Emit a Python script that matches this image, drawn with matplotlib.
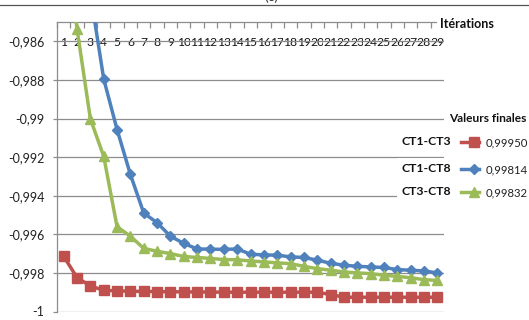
import matplotlib
matplotlib.use("Agg")
import matplotlib.pyplot as plt
from matplotlib.lines import Line2D
from matplotlib.ticker import FuncFormatter, FixedLocator
import numpy as np

plt.rcParams['font.family'] = ['Lato', 'DejaVu Sans']

iterations = list(range(1, 30))
ct1_ct3 = [-0.99714, -0.99824, -0.99868, -0.99890, -0.99893, -0.99895, -0.99896,
           -0.99897, -0.99898, -0.99898, -0.99899, -0.99899, -0.99900, -0.99900,
           -0.99900, -0.99900, -0.99900, -0.99900, -0.99900, -0.99900, -0.99912,
           -0.99926, -0.99926, -0.99926, -0.99926, -0.99926, -0.99926, -0.99926,
           -0.99926]
ct1_ct8 = [-0.9745, -0.9790, -0.9835, -0.98795, -0.99057, -0.99290, -0.99490,
           -0.99540, -0.99610, -0.99647, -0.99676, -0.99677, -0.99678, -0.99676,
           -0.99703, -0.99707, -0.99708, -0.99717, -0.99720, -0.99734, -0.99750,
           -0.99760, -0.99766, -0.99769, -0.99772, -0.99783, -0.99786, -0.99790,
           -0.99800]
ct3_ct8 = [-0.9800, -0.98535, -0.99002, -0.99196, -0.99561, -0.99610, -0.99673,
           -0.99688, -0.99700, -0.99715, -0.99720, -0.99725, -0.99731, -0.99732,
           -0.99738, -0.99743, -0.99748, -0.99752, -0.99766, -0.99778, -0.99786,
           -0.99795, -0.99800, -0.99804, -0.99812, -0.99818, -0.99825, -0.99835,
           -0.99839]
series_names = ["CT1-CT3", "CT1-CT8", "CT3-CT8"]
final_values = ["0,99950", "0,99814", "0,99832"]
y_ticks = [-1.0, -0.998, -0.996, -0.994, -0.992, -0.99, -0.988, -0.986]

W, H = 529, 320
fig = plt.figure(figsize=(W / 100, H / 100), dpi=100)
fig.patch.set_facecolor('white')

def fx(px):
    return px / W

def fy(py):
    return 1 - py / H

ax = fig.add_axes([fx(57), fy(311.5), fx(444) - fx(57), fy(22) - fy(311.5)])
ax.set_xlim(0.5, 29.5)
ax.set_ylim(-1.0, -0.985)

red = '#C0504D'
blue = '#4F81BD'
green = '#9BBB59'

ax.plot(iterations, ct1_ct3, color=red, lw=2.5, marker='s', ms=7.0, zorder=4)
ax.plot(iterations, ct1_ct8, color=blue, lw=2.5, marker='D', ms=5.6, zorder=3)
ax.plot(iterations, ct3_ct8, color=green, lw=2.5, marker='^', ms=7.2, zorder=3)

grid_c = '#8C8C8C'
ax.yaxis.set_major_locator(FixedLocator(y_ticks))
ax.yaxis.set_major_formatter(FuncFormatter(
    lambda v, p: ('%.3f' % v).rstrip('0').rstrip('.').replace('.', ',')))
ax.grid(axis='y', color=grid_c, lw=0.9, zorder=0)
ax.set_axisbelow(True)
ax.tick_params(axis='y', length=3, width=0.9, color=grid_c, pad=6, labelsize=9,
               labelcolor='#222222')

ax.xaxis.tick_top()
ax.set_xticks(iterations)
ax.set_xticklabels([str(i) for i in iterations])
ax.set_xticks(np.arange(0.5, 30, 1), minor=True)
ax.tick_params(axis='x', which='major', length=0, top=True, bottom=False,
               labeltop=True, labelbottom=False, pad=-18.5, labelsize=8.7,
               labelcolor='#111111')
ax.tick_params(axis='x', which='minor', length=4, width=0.9, color=grid_c,
               direction='in', top=True, bottom=False)
for lab in ax.get_xticklabels():
    lab.set_bbox(dict(facecolor='white', edgecolor='none', pad=0.2))

for s in ['right', 'bottom']:
    ax.spines[s].set_visible(False)
ax.spines['left'].set_color(grid_c)
ax.spines['top'].set_color(grid_c)
ax.spines['left'].set_linewidth(0.9)
ax.spines['top'].set_linewidth(0.9)

# top border line and caption (cut by the top edge, as in the source)
fig.add_artist(Line2D([fx(0), fx(528)], [fy(5), fy(5)], color='#555555', lw=0.9))
fig.text(fx(271), fy(3), "(c)", ha='center', va='bottom', fontsize=10, color='#333333')

bb = dict(facecolor='white', edgecolor='none', pad=2)
fig.text(fx(440), fy(24), "Itérations", ha='left', va='center', fontsize=9,
         fontweight='bold', color='#111111', bbox=bb)
fig.text(fx(449), fy(118), "Valeurs finales", ha='left', va='center', fontsize=8.6,
         fontweight='bold', color='#111111', bbox=bb)

rows_y = [141.7, 169, 191.7]
markers = [('s', 6.5), ('D', 5.0), ('^', 6.8)]
colors = [red, blue, green]
for i in range(3):
    yy = rows_y[i]
    fig.text(fx(402), fy(yy), series_names[i], ha='left', va='center', fontsize=8.8,
             fontweight='bold', color='#111111',
             bbox=dict(facecolor='white', edgecolor='none', pad=4))
    fig.add_artist(Line2D([fx(461), fx(479)], [fy(yy), fy(yy)], color=colors[i], lw=2.5))
    fig.add_artist(Line2D([fx(474)], [fy(yy)], color=colors[i], marker=markers[i][0],
                          ms=markers[i][1], lw=0))
    fig.text(fx(486), fy(yy + 1), final_values[i], ha='left',
             va='center', fontsize=8.2, color='#222222')

fig.savefig('out.png', dpi=100, facecolor='white')
